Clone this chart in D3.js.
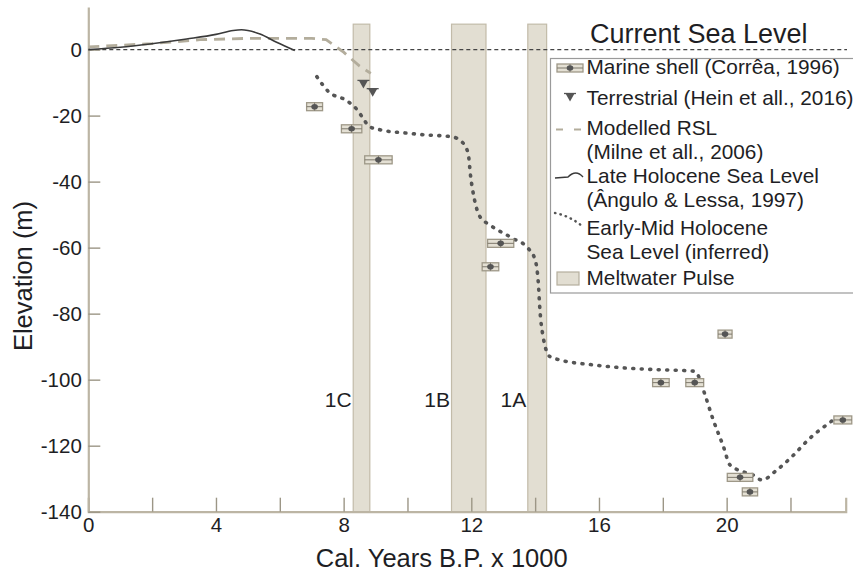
<!DOCTYPE html>
<html>
<head>
<meta charset="utf-8">
<script src="https://cdn.jsdelivr.net/npm/d3@7"></script>
<style>
  body { margin: 0; background: #fff; }
  text { font-family: "Liberation Sans", Arial, Helvetica, sans-serif; fill: #1e1e24; }
</style>
</head>
<body>
<svg id="chart" width="853" height="575"></svg>
<script>
// Marine shells (Corrêa, 1996): age (ka), age error, elevation (m)
const shellAge    = [7.09, 8.25, 9.09, 12.6, 12.92, 17.94, 19.0, 19.95, 20.42, 20.73, 23.64];
const shellAgeErr = [0.25, 0.32, 0.43, 0.26, 0.41, 0.26, 0.28, 0.22, 0.40, 0.24, 0.28];
const shellElev   = [-17.3, -24.0, -33.4, -65.8, -58.7, -100.9, -100.9, -86.2, -129.6, -134.0, -112.2];

// Terrestrial (Hein et al., 2016)
const terrAge  = [8.62, 8.91];
const terrElev = [-10.4, -12.9];

// Late Holocene sea level (Ângulo & Lessa, 1997)
const lateAge  = [0, 1.0, 1.93, 3.08, 4.0, 4.54, 4.8, 5.0, 5.38, 5.9, 6.47];
const lateElev = [0, 0.7, 1.7, 3.2, 4.6, 5.8, 6.0, 5.8, 4.7, 2.2, -0.3];

// Modelled RSL (Milne et al., 2006)
const rslAge  = [0, 2.0, 3.5, 5.0, 7.0, 7.45, 8.0, 8.5, 8.85];
const rslElev = [0.8, 1.8, 3.0, 3.4, 3.4, 3.0, -0.8, -5.0, -7.2];

// Early-Mid Holocene sea level (inferred)
const inferredAge  = [7.16, 7.52, 8.1, 8.43, 8.64, 8.8, 9.14, 9.97, 10.5, 11.38, 11.7, 11.9, 11.98, 12.1,
                      12.27, 12.58, 13.3, 13.78, 14.0, 14.1, 14.15, 14.25, 14.46, 14.77, 15.8, 16.87, 17.9,
                      18.95, 19.1, 19.27, 19.58, 19.9, 20.1, 20.52, 20.83, 21.1, 21.57, 22.09, 22.6, 23.13, 23.34];
const inferredElev = [-8.2, -12.7, -15.5, -18.3, -21.3, -23.3, -24.3, -25.3, -25.8, -26.4, -27.9, -31.4, -38.5, -45.5,
                      -50.6, -53.1, -57.2, -60.2, -63.7, -70.8, -78.9, -87, -93, -94.0, -95.5, -96.5, -97,
                      -97.4, -98.6, -103.1, -112.2, -120.3, -125.8, -127.9, -128.9, -130.4, -127.4, -122.9, -117.8, -113.7, -112.2];

// Meltwater pulses
const pulseNames = ["1C", "1B", "1A"];
const pulseStart = [8.3, 11.38, 13.77];
const pulseEnd   = [8.82, 12.46, 14.36];
const pulseTop   = 7.7;

// Axes
const xTicks = [0, 2, 4, 6, 8, 10, 12, 14, 16, 18, 20, 22];
const xLabelStep = 4;
const yTicks = [0, -20, -40, -60, -80, -100, -120, -140];

const legendEntries = [
  ["Marine shell (Corrêa, 1996)"],
  ["Terrestrial (Hein et all., 2016)"],
  ["Modelled RSL", "(Milne et all., 2006)"],
  ["Late Holocene Sea Level", "(Ângulo & Lessa, 1997)"],
  ["Early-Mid Holocene", "Sea Level (inferred)"],
  ["Meltwater Pulse"]
];

const axisColor = "#bcb5a4";
const pulseFill = "#e2ded2";
const shellFill = "#e4e0d4";
const darkMark = "#555";

const svg = d3.select("#chart");

const x = d3.scaleLinear().domain([0, 23.73]).range([88.3, 845.7]);
const y = d3.scaleLinear().domain([-140, 12.9]).range([511.7, 7]);

// Meltwater pulse bars
const pulses = pulseNames.map((n, i) => ({name: n, x0: pulseStart[i], x1: pulseEnd[i]}));
svg.append("g")
  .selectAll("rect")
  .data(pulses)
  .join("rect")
  .attr("x", d => x(d.x0))
  .attr("y", y(pulseTop))
  .attr("width", d => x(d.x1) - x(d.x0))
  .attr("height", y(-140) - y(pulseTop))
  .attr("fill", pulseFill)
  .attr("stroke", "#c2bba9")
  .attr("stroke-width", 1.2);

svg.append("g")
  .selectAll("text")
  .data(pulses)
  .join("text")
  .attr("x", d => x(d.x0) - 1.5)
  .attr("y", y(-108.2))
  .attr("text-anchor", "end")
  .style("font-size", "21px")
  .text(d => d.name);

// Current sea level
svg.append("line")
  .attr("x1", x(0)).attr("x2", 847)
  .attr("y1", y(0)).attr("y2", y(0))
  .attr("stroke", "#444")
  .attr("stroke-width", 1.2)
  .attr("stroke-dasharray", "4,3");

svg.append("text")
  .attr("x", 590)
  .attr("y", 43)
  .style("font-size", "27px")
  .text("Current Sea Level");

// Axes
const xAxis = d3.axisBottom(x)
  .tickValues(xTicks)
  .tickSizeInner(-14)
  .tickSizeOuter(-14)
  .tickPadding(6)
  .tickFormat(d => d % xLabelStep === 0 ? String(d) : "");

const yAxis = d3.axisLeft(y)
  .tickValues(yTicks)
  .tickSizeInner(-12)
  .tickSizeOuter(0)
  .tickPadding(6.5)
  .tickFormat(d => String(d));

svg.append("g")
  .attr("transform", `translate(0,${y(-140)})`)
  .call(xAxis)
  .call(g => g.select(".domain").attr("stroke", axisColor).attr("stroke-width", 2.2))
  .call(g => g.selectAll(".tick line").attr("stroke", "#9c9686").attr("stroke-width", 1.4))
  .call(g => g.selectAll(".tick text").style("font-size", "20.5px").attr("fill", "#1e1e24"));

svg.append("g")
  .attr("transform", `translate(${x(0)},0)`)
  .call(yAxis)
  .call(g => g.select(".domain").attr("stroke", axisColor).attr("stroke-width", 2.2))
  .call(g => g.selectAll(".tick line").attr("stroke", "#9c9686").attr("stroke-width", 1.4))
  .call(g => g.selectAll(".tick text").style("font-size", "20.5px").attr("fill", "#1e1e24"));

svg.append("text")
  .attr("x", 441.7)
  .attr("y", 566.5)
  .attr("text-anchor", "middle")
  .style("font-size", "25.5px")
  .text("Cal. Years B.P. x 1000");

svg.append("text")
  .attr("transform", `translate(32,276) rotate(-90)`)
  .attr("text-anchor", "middle")
  .style("font-size", "25.5px")
  .text("Elevation (m)");

// Curves
const line = d3.line().x(d => x(d[0])).y(d => y(d[1]));

svg.append("path")
  .datum(d3.zip(rslAge, rslElev))
  .attr("fill", "none")
  .attr("stroke", "#b3ad9c")
  .attr("stroke-width", 2.8)
  .attr("stroke-dasharray", "11,7")
  .attr("d", line);

svg.append("path")
  .datum(d3.zip(lateAge, lateElev))
  .attr("fill", "none")
  .attr("stroke", "#3a3a3a")
  .attr("stroke-width", 1.6)
  .attr("d", line.curve(d3.curveMonotoneX));

svg.append("path")
  .datum(d3.zip(inferredAge, inferredElev))
  .attr("fill", "none")
  .attr("stroke", darkMark)
  .attr("stroke-width", 3.6)
  .attr("stroke-linecap", "round")
  .attr("stroke-dasharray", "1,7.5")
  .attr("d", line.curve(d3.curveMonotoneX));

// Shell symbols
function drawShell(g, cx, half, cy) {
  g.append("rect")
    .attr("x", cx - half).attr("y", cy - 4)
    .attr("width", 2 * half).attr("height", 8)
    .attr("fill", shellFill)
    .attr("stroke", "#9e9888")
    .attr("stroke-width", 1.3);
  g.append("line")
    .attr("x1", cx - half).attr("x2", cx + half)
    .attr("y1", cy).attr("y2", cy)
    .attr("stroke", "#7d786c").attr("stroke-width", 1);
  g.append("line")
    .attr("x1", cx).attr("x2", cx)
    .attr("y1", cy - 4).attr("y2", cy + 4)
    .attr("stroke", "#7d786c").attr("stroke-width", 1);
  g.append("ellipse")
    .attr("cx", cx).attr("cy", cy)
    .attr("rx", 3.3).attr("ry", 2.8)
    .attr("fill", darkMark);
}

const shellG = svg.append("g");
shellAge.forEach((a, i) => {
  const half = x(a + shellAgeErr[i]) - x(a);
  drawShell(shellG, x(a), half, y(shellElev[i]));
});

// Terrestrial symbols
function drawTerr(g, cx, cy) {
  g.append("line")
    .attr("x1", cx - 6).attr("x2", cx + 6)
    .attr("y1", cy - 3.5).attr("y2", cy - 3.5)
    .attr("stroke", darkMark).attr("stroke-width", 1.3);
  g.append("path")
    .attr("d", `M${cx - 4.5},${cy - 3.5} L${cx + 4.5},${cy - 3.5} L${cx},${cy + 4.5} Z`)
    .attr("fill", darkMark);
}
const terrG = svg.append("g");
terrAge.forEach((a, i) => drawTerr(terrG, x(a), y(terrElev[i])));

// Legend
const legend = svg.append("g");
legend.append("rect")
  .attr("x", 550.5).attr("y", 58.5)
  .attr("width", 310).attr("height", 234.5)
  .attr("fill", "#fff")
  .attr("stroke", "#9a9a9a")
  .attr("stroke-width", 1.2);

const rowBase = [74, 105, 135, 183, 235, 285];
const lineGap = 23.5;
legendEntries.forEach((lines, i) => {
  lines.forEach((t, j) => {
    legend.append("text")
      .attr("x", 586.5)
      .attr("y", rowBase[i] + j * lineGap)
      .style("font-size", "20.8px")
      .text(t);
  });
});

drawShell(legend, 570, 13, 68);
drawTerr(legend, 570, 97);
legend.append("line")
  .attr("x1", 556).attr("x2", 584)
  .attr("y1", 129.5).attr("y2", 129.5)
  .attr("stroke", "#b3ad9c").attr("stroke-width", 2)
  .attr("stroke-dasharray", "7,11");
legend.append("path")
  .attr("d", "M555,178 L568,177 Q576,169 583,177")
  .attr("fill", "none")
  .attr("stroke", "#3a3a3a").attr("stroke-width", 1.4);
legend.append("path")
  .attr("d", "M555,213 Q570,216 582,226")
  .attr("fill", "none")
  .attr("stroke", darkMark).attr("stroke-width", 2.4)
  .attr("stroke-linecap", "round")
  .attr("stroke-dasharray", "0.5,5");
legend.append("rect")
  .attr("x", 557).attr("y", 272)
  .attr("width", 22).attr("height", 13)
  .attr("fill", pulseFill)
  .attr("stroke", "#b5ae9d").attr("stroke-width", 1.2);
</script>
</body>
</html>
